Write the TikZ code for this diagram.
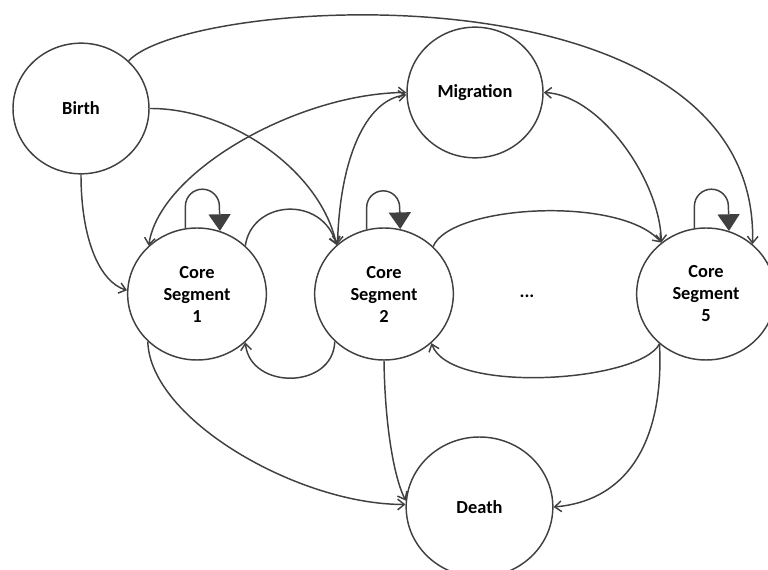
\documentclass[tikz,border=0pt]{standalone}
\usepackage{fontspec}
\setmainfont{Carlito}
\usetikzlibrary{arrows.meta,shapes.geometric}
\definecolor{linegray}{RGB}{64,64,64}

\begin{document}
\begin{tikzpicture}[x=0.75pt,y=0.75pt,yscale=-1,
  state/.style={draw=linegray,line width=1.1pt,ellipse,inner sep=0pt,align=center,
    minimum width=102pt,minimum height=98pt,font=\fontsize{13.8}{16.5}\selectfont\bfseries},
  core/.style={state,minimum width=104pt,minimum height=99pt},
  barb/.tip={Straight Barb[length=5pt,width=8pt]},
  link/.style={draw=linegray,line width=1.1pt,-barb},
  twoway/.style={draw=linegray,line width=1.1pt,barb-barb},
  selfloop/.style={draw=linegray,line width=1.1pt,-{Triangle[length=12.5pt,width=16.5pt]}}]

\useasboundingbox (0,0) rectangle (768,570);

%Shape: Circle [birth]
\node[state] (birth) at (81,108.5) {Birth};
%Shape: Circle [migration]
\node[state] (migration) at (475,92.5) {Migration};
%Shape: Circle [core segments]
\node[core] (core1) at (197,294) {Core\\Segment\\1};
\node[core] (core2) at (384,294) {Core\\Segment\\2};
\node[core] (core5) at (706,294) {Core\\Segment\\5};
%Shape: Circle [death]
\node[state,minimum width=110pt,minimum height=105pt] (death) at (479.5,507) {Death};
% Text Node
\node[font=\fontsize{13.8}{16.5}\selectfont\bfseries] (dots) at (527,296) {...};

%Curve Lines [from birth]
\draw[link] (birth.45) .. controls (190,-5) and (760,-40) .. (core5.47);
\draw[link] (birth.0) .. controls (230,108) and (320,170) .. (core2.134);
\draw[link] (birth.-90) .. controls (81,240) and (100,282) .. (core1.177);

%Curve Lines [migration]
\draw[twoway] (core1.135) .. controls (160,170) and (300,93) .. (migration.180);
\draw[twoway] (core2.133) .. controls (340,160) and (365,100) .. (migration.182);
\draw[twoway] (migration.0) .. controls (600,95) and (660,180) .. (core5.131);

%Curve Lines [between segments]
\draw[link] (core1.45) .. controls (252,200) and (322,195) .. (core2.134);
\draw[link] (core2.-136) .. controls (333,390) and (250,390) .. (core1.-45);
\draw[link] (core2.44) .. controls (450,205) and (620,195) .. (core5.131);
\draw[link] (core5.-133) .. controls (640,382) and (450,395) .. (core2.-46);

%Curve Lines [to death]
\draw[link] (core1.-136) .. controls (150,420) and (300,505) .. (death.178);
\draw[link] (core2.-90) .. controls (385,430) and (395,480) .. (death.175);
\draw[link] (core5.-133) .. controls (664,430) and (635,500) .. (death.0);

%Self Loops
\draw[selfloop] (core1.100) -- ++(0,-22) arc[start angle=180,end angle=360,radius=17] -- (core1.70);
\draw[selfloop] (core2.105) -- ++(0,-22) arc[start angle=180,end angle=360,radius=16.5] -- (core2.76);
\draw[selfloop] (core5.100) -- ++(0,-22) arc[start angle=180,end angle=360,radius=17] -- (core5.70);
\end{tikzpicture}
\end{document}
